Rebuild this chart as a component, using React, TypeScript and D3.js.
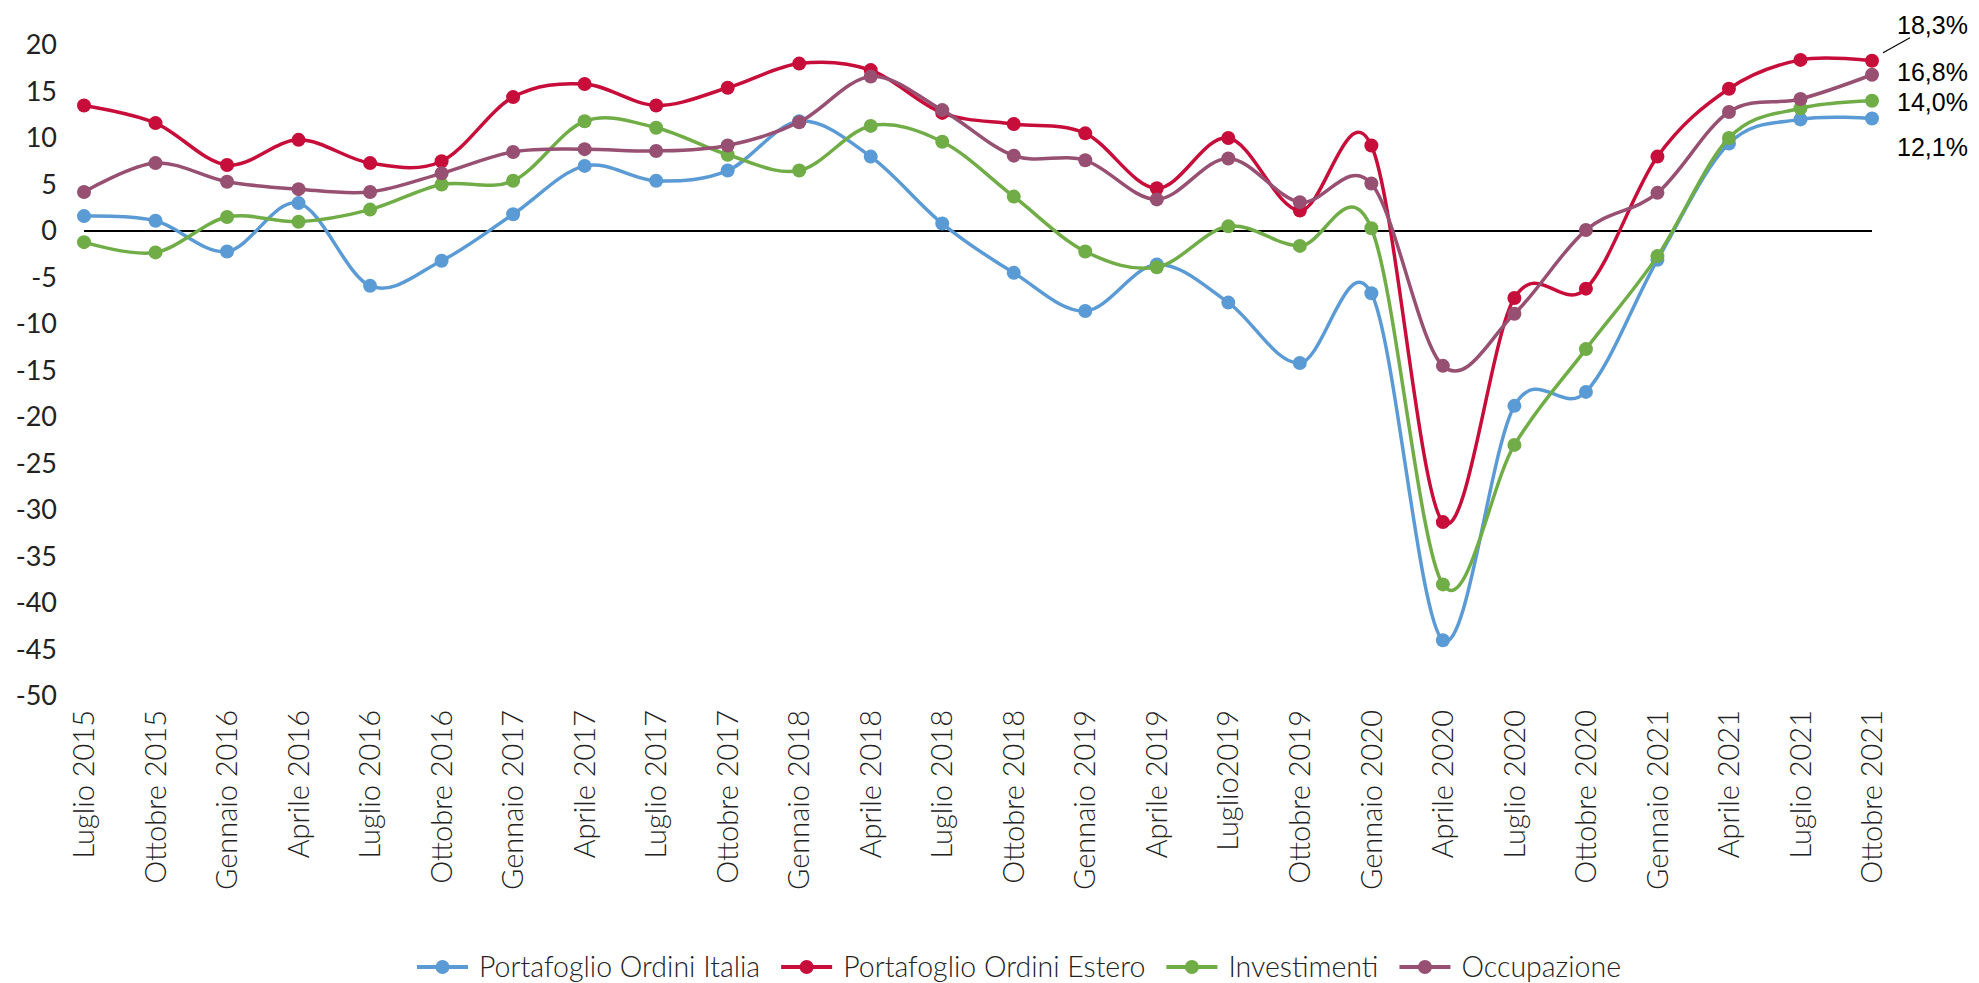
import React, { useEffect, useRef } from "react";
import * as d3 from "d3";

// quarters on the x axis
const categories = [
  "Luglio 2015", "Ottobre 2015", "Gennaio 2016", "Aprile 2016", "Luglio 2016",
  "Ottobre 2016", "Gennaio 2017", "Aprile 2017", "Luglio 2017", "Ottobre 2017",
  "Gennaio 2018", "Aprile 2018", "Luglio 2018", "Ottobre 2018", "Gennaio 2019",
  "Aprile 2019", "Luglio2019", "Ottobre 2019", "Gennaio 2020", "Aprile 2020",
  "Luglio 2020", "Ottobre 2020", "Gennaio 2021", "Aprile 2021", "Luglio 2021",
  "Ottobre 2021",
];

const ordiniItalia = [
  1.6, 1.1, -2.2, 3.0, -5.9, -3.2, 1.8, 7.0, 5.4, 6.5, 11.8, 8.0, 0.8, -4.5,
  -8.6, -3.6, -7.7, -14.2, -6.7, -44.0, -18.8, -17.3, -3.1, 9.4, 12.0, 12.1,
];
const ordiniEstero = [
  13.5, 11.6, 7.1, 9.8, 7.3, 7.5, 14.4, 15.8, 13.5, 15.4, 18.0, 17.3, 12.7, 11.5,
  10.5, 4.6, 10.0, 2.2, 9.2, -31.3, -7.2, -6.2, 8.0, 15.3, 18.4, 18.3,
];
const investimenti = [
  -1.2, -2.3, 1.5, 1.0, 2.3, 5.0, 5.4, 11.8, 11.1, 8.2, 6.5, 11.3, 9.6, 3.7,
  -2.2, -3.9, 0.5, -1.6, 0.3, -38.0, -23.0, -12.7, -2.7, 10.0, 13.2, 14.0,
];
const occupazione = [
  4.2, 7.3, 5.3, 4.5, 4.2, 6.2, 8.5, 8.8, 8.6, 9.2, 11.7, 16.6, 13.0, 8.1,
  7.6, 3.4, 7.8, 3.1, 5.1, -14.5, -8.9, 0.1, 4.1, 12.8, 14.2, 16.8,
];

const seriesNames = [
  "Portafoglio Ordini Italia",
  "Portafoglio Ordini Estero",
  "Investimenti",
  "Occupazione",
];
const seriesColors = ["#5b9bd5", "#c70d3a", "#70ad47", "#974f72"];
const seriesValues = [ordiniItalia, ordiniEstero, investimenti, occupazione];

const yTicks = [20, 15, 10, 5, 0, -5, -10, -15, -20, -25, -30, -35, -40, -45, -50];

// last-value labels (offset from their point, px)
const endLabels = ["12,1%", "18,3%", "14,0%", "16,8%"];
const endLabelDy = [29, -36, 1, -3];

const W = 1979;
const H = 983;

const Chart = () => {
  const ref = useRef(null);

  useEffect(() => {
    document.body.style.margin = "0";
    const svg = d3.select(ref.current);
    svg.selectAll("*").remove();

    const x = d3.scalePoint().domain(categories).range([84, 1872]);
    const y = d3.scaleLinear().domain([-50, 20]).range([696, 45]);

    // y labels
    svg
      .append("g")
      .selectAll("text")
      .data(yTicks)
      .enter()
      .append("text")
      .attr("x", 57)
      .attr("y", (d) => y(d))
      .attr("dy", "0.35em")
      .attr("text-anchor", "end")
      .attr("font-family", "Lato")
      .attr("font-size", 27)
      .attr("fill", "#222")
      .text((d) => d);

    // x labels, rotated
    svg
      .append("g")
      .selectAll("text")
      .data(categories)
      .enter()
      .append("text")
      .attr("transform", (d) => `translate(${x(d)},710) rotate(-90)`)
      .attr("dy", "0.35em")
      .attr("text-anchor", "end")
      .attr("font-family", "Lato")
      .attr("font-weight", 300)
      .attr("font-size", 29)
      .attr("fill", "#222")
      .text((d) => d);

    // zero line
    svg
      .append("line")
      .attr("x1", x(categories[0]))
      .attr("x2", x(categories[categories.length - 1]))
      .attr("y1", y(0))
      .attr("y2", y(0))
      .attr("stroke", "#000")
      .attr("stroke-width", 2);

    const line = d3
      .line()
      .x((d, i) => x(categories[i]))
      .y((d) => y(d))
      .curve(d3.curveCardinal.tension(0));

    seriesValues.forEach((vals, s) => {
      const g = svg.append("g");
      g.append("path")
        .attr("d", line(vals))
        .attr("fill", "none")
        .attr("stroke", seriesColors[s])
        .attr("stroke-width", 3.5);
      g.selectAll("circle")
        .data(vals)
        .enter()
        .append("circle")
        .attr("cx", (d, i) => x(categories[i]))
        .attr("cy", (d) => y(d))
        .attr("r", 7)
        .attr("fill", seriesColors[s]);
    });

    // end labels
    const lastX = x(categories[categories.length - 1]);
    seriesValues.forEach((vals, s) => {
      svg
        .append("text")
        .attr("x", lastX + 25)
        .attr("y", y(vals[vals.length - 1]) + endLabelDy[s])
        .attr("dy", "0.35em")
        .attr("font-family", "Liberation Sans")
        .attr("font-size", 25)
        .attr("fill", "#000")
        .text(endLabels[s]);
    });
    const redEnd = y(ordiniEstero[ordiniEstero.length - 1]);
    svg
      .append("line")
      .attr("x1", lastX + 11)
      .attr("y1", redEnd - 8)
      .attr("x2", lastX + 38)
      .attr("y2", redEnd - 23)
      .attr("stroke", "#000")
      .attr("stroke-width", 1.2);

    // legend
    const legend = svg.append("g");
    let cx = 0;
    seriesNames.forEach((name, s) => {
      const item = legend.append("g").attr("transform", `translate(${cx},0)`);
      item
        .append("line")
        .attr("x1", 0)
        .attr("x2", 51)
        .attr("stroke", seriesColors[s])
        .attr("stroke-width", 4);
      item.append("circle").attr("cx", 25.5).attr("r", 7).attr("fill", seriesColors[s]);
      const t = item
        .append("text")
        .attr("x", 62)
        .attr("dy", "0.35em")
        .attr("font-family", "Lato")
        .attr("font-weight", 300)
        .attr("font-size", 28.5)
        .attr("fill", "#222")
        .text(name);
      cx += 62 + t.node().getComputedTextLength() + 21;
    });
    const legendW = cx - 21;
    legend.attr("transform", `translate(${(421 + 1617) / 2 - legendW / 2},967)`);
  }, []);

  return <svg ref={ref} width={W} height={H} style={{ display: "block", background: "#fff" }}></svg>;
};

export default function App() {
  return <Chart />;
}
